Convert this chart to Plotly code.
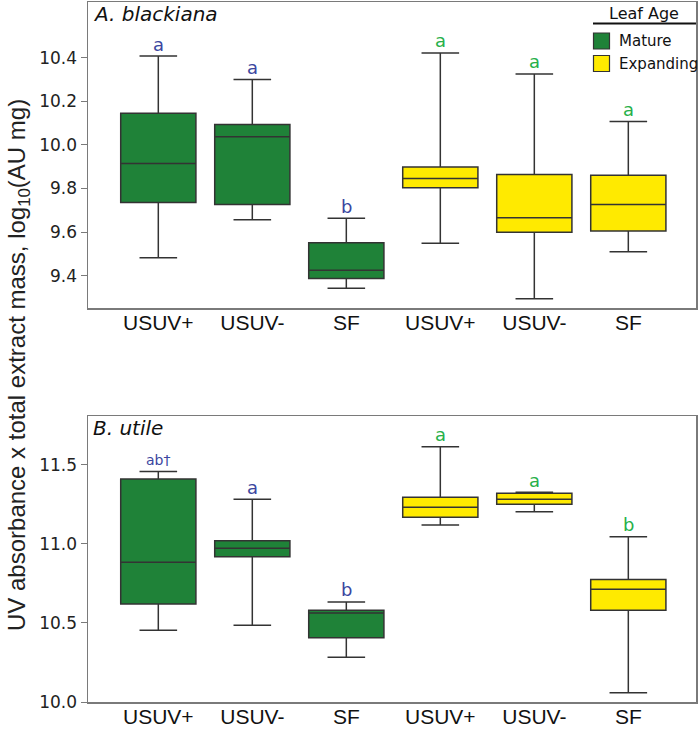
import plotly.graph_objects as go

# ---------------- data ----------------
categories = ["USUV+", "USUV-", "SF", "USUV+", "USUV-", "SF"]
leaf_age = ["Mature", "Mature", "Mature", "Expanding", "Expanding", "Expanding"]

# Panel A: A. blackiana
a_low = [9.483, 9.657, 9.343, 9.549, 9.295, 9.510]
a_q1 = [9.736, 9.727, 9.388, 9.803, 9.599, 9.605]
a_med = [9.915, 10.037, 9.426, 9.846, 9.666, 9.727]
a_q3 = [10.145, 10.093, 9.551, 9.899, 9.864, 9.861]
a_high = [10.407, 10.299, 9.664, 10.421, 10.325, 10.107]
a_letters = ["a", "a", "b", "a", "a", "a"]

# Panel B: B. utile
b_low = [10.454, 10.485, 10.283, 11.120, 11.204, 10.059]
b_q1 = [10.620, 10.920, 10.407, 11.169, 11.251, 10.580]
b_med = [10.884, 10.973, 10.563, 11.232, 11.283, 10.713]
b_q3 = [11.411, 11.021, 10.580, 11.296, 11.321, 10.776]
b_high = [11.458, 11.283, 10.633, 11.616, 11.327, 11.046]
b_letters = ["ab†", "a", "b", "a", "a", "b"]

a_ticks = [9.4, 9.6, 9.8, 10.0, 10.2, 10.4]
b_ticks = [10.0, 10.5, 11.0, 11.5]

fill = {"Mature": "#1f8238", "Expanding": "#ffea00"}
letter_col = {"Mature": "#3b46a0", "Expanding": "#27b04a"}

# ---------------- figure ----------------
W, H = 700, 729
ML, MR, MT, MB = 88, 4, 2, 27
PW, PH = W - ML - MR, H - MT - MB


def px2x(px):
    return (px - ML) / PW


def px2y(py):
    return (H - MB - py) / PH


fig = go.Figure()
panels = [
    ("x", "y", a_low, a_q1, a_med, a_q3, a_high, a_letters),
    ("x2", "y2", b_low, b_q1, b_med, b_q3, b_high, b_letters),
]
for xa, ya, lo, q1, md, q3, hi, lets in panels:
    for i in range(len(categories)):
        fig.add_trace(go.Box(
            x=[i], q1=[q1[i]], median=[md[i]], q3=[q3[i]],
            lowerfence=[lo[i]], upperfence=[hi[i]],
            fillcolor=fill[leaf_age[i]],
            line=dict(color="#333333", width=1.5),
            width=0.8, whiskerwidth=0.5, boxpoints=False,
            showlegend=False, hoverinfo="skip",
            xaxis=xa, yaxis=ya,
        ))
        fig.add_annotation(
            x=i, y=hi[i], xref=xa, yref=ya, text=lets[i],
            showarrow=False, yanchor="middle", yshift=12,
            font=dict(family="DejaVu Sans", size=18 if lets[i] != "ab†" else 14,
                      color=letter_col[leaf_age[i]]),
        )

tick_font = dict(family="DejaVu Sans", size=17, color="#222")
xtick_font = dict(family="Liberation Sans", size=21, color="#111")
common_x = dict(
    range=[-0.748, 5.72], tickmode="array", tickvals=list(range(len(categories))),
    ticktext=categories, showline=True, mirror=True, linecolor="#7a7a7a",
    linewidth=1.5, ticks="", showgrid=False, zeroline=False,
    tickfont=xtick_font, automargin=False, fixedrange=True,
    ticklabelstandoff=-5,
)
common_y = dict(
    showline=True, mirror=True, linecolor="#7a7a7a", linewidth=1.5,
    ticks="outside", ticklen=6, tickcolor="#7a7a7a", showgrid=False,
    zeroline=False, tickfont=tick_font, automargin=False, tickformat=".1f",
    fixedrange=True,
)

fig.update_layout(
    width=W, height=H, template="none",
    paper_bgcolor="white", plot_bgcolor="white",
    margin=dict(l=ML, r=MR, t=MT, b=MB, pad=0),
    xaxis=dict(domain=[0, 1], anchor="y", **common_x),
    yaxis=dict(domain=[px2y(308), 1.0], anchor="x", range=[9.2525, 10.6545],
               tickvals=a_ticks, **common_y),
    xaxis2=dict(domain=[0, 1], anchor="y2", **common_x),
    yaxis2=dict(domain=[0, px2y(416)], anchor="x2", range=[10.0, 11.81],
                tickvals=b_ticks, **common_y),
    showlegend=False,
)

# panel titles
fig.add_annotation(x=px2x(91), y=px2y(14), xref="paper", yref="paper",
                   text="<i>A. blackiana</i>", showarrow=False,
                   xanchor="left", yanchor="middle",
                   font=dict(family="DejaVu Sans", size=20, color="#111"))
fig.add_annotation(x=px2x(91), y=px2y(428), xref="paper", yref="paper",
                   text="<i>B. utile</i>", showarrow=False,
                   xanchor="left", yanchor="middle",
                   font=dict(family="DejaVu Sans", size=20, color="#111"))

# y-axis title spanning both panels
fig.add_annotation(x=px2x(18), y=px2y(365), xref="paper", yref="paper",
                   text="UV absorbance x total extract mass, log<sub>10</sub>(AU mg)",
                   showarrow=False, textangle=-90, xanchor="center", yanchor="middle",
                   font=dict(family="Liberation Sans", size=24, color="#222"))

# legend (manual)
legend_title = "Leaf Age"
legend_items = ["Mature", "Expanding"]
fig.add_annotation(x=px2x(644), y=px2y(14), xref="paper", yref="paper",
                   text=legend_title, showarrow=False, xanchor="center", yanchor="middle",
                   font=dict(family="DejaVu Sans", size=16, color="#111"))
fig.add_shape(type="line", xref="paper", yref="paper",
              x0=px2x(593), x1=px2x(696), y0=px2y(23.5), y1=px2y(23.5),
              line=dict(color="#111", width=2))
for k, name in enumerate(legend_items):
    top = 33 + k * 22.5
    fig.add_shape(type="rect", xref="paper", yref="paper",
                  x0=px2x(593.5), x1=px2x(609.5), y0=px2y(top + 16), y1=px2y(top),
                  fillcolor=fill[name], line=dict(color="#333", width=1.2))
    fig.add_annotation(x=px2x(617), y=px2y(top + 8), xref="paper", yref="paper",
                       text=name, showarrow=False, xanchor="left", yanchor="middle",
                       font=dict(family="DejaVu Sans", size=15, color="#111"))

fig.write_html(
    "out.html",
    config={"displayModeBar": False, "staticPlot": True},
    post_script="document.body.style.margin='0';document.body.style.overflow='hidden';",
)
